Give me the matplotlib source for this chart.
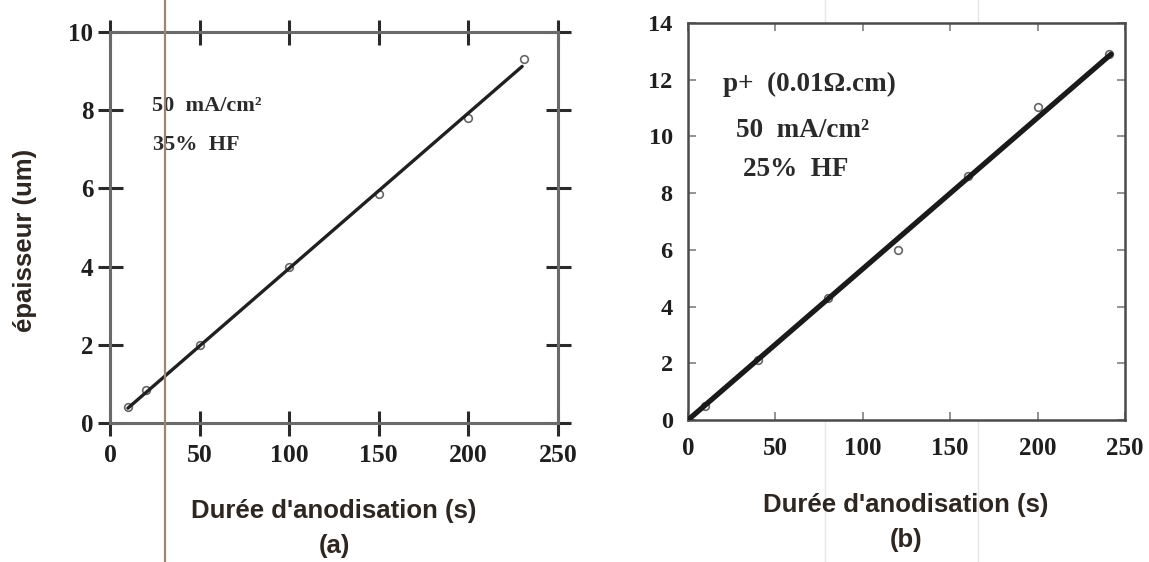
import matplotlib
matplotlib.use("Agg")
import matplotlib.pyplot as plt
from matplotlib.lines import Line2D

# panel (a): 50 mA/cm2, 35% HF
time_a = [10, 20, 50, 100, 150, 200, 231]
thick_a = [0.4, 0.85, 2.0, 4.0, 5.85, 7.8, 9.3]
fit_a_x = [10, 230]
fit_a_y = [0.38, 9.12]

# panel (b): p+ (0.01 ohm.cm), 50 mA/cm2, 25% HF
time_b = [0, 10, 40, 80, 120, 160, 200, 241]
thick_b = [0.0, 0.5, 2.1, 4.3, 6.0, 8.6, 11.05, 12.9]
fit_b_x = [0, 242]
fit_b_y = [0.0, 12.9]

xticks = [0, 50, 100, 150, 200, 250]
yticks_a = [0, 2, 4, 6, 8, 10]
yticks_b = [0, 2, 4, 6, 8, 10, 12, 14]

SERIF = "Liberation Serif"
SANS = "Liberation Sans"
INK = "#1e1e1e"
LABEL_INK = "#2e2620"

W, H = 1149, 562
fig = plt.figure(figsize=(W / 100, H / 100), dpi=100)
fig.patch.set_facecolor("white")


def px(x0, y0, x1, y1):
    # pixel box (top-left origin) -> figure fraction rect
    return [x0 / W, 1 - y1 / H, (x1 - x0) / W, (y1 - y0) / H]


# ---------- panel (a) ----------
ax1 = fig.add_axes(px(110, 32, 558, 423))
ax1.plot(time_a, thick_a, "o", ms=5.5, mfc="white", mec="#666666", mew=1.2, zorder=2)
ax1.plot(fit_a_x, fit_a_y, color="#202020", lw=2.4, zorder=3, solid_capstyle="round")
ax1.set_xlim(0, 250)
ax1.set_ylim(0, 10)
ax1.set_xticks(xticks)
ax1.set_yticks(yticks_a)
for s in ax1.spines.values():
    s.set_color("#6a6a6a")
    s.set_linewidth(2.2)
ax1.tick_params(axis="both", direction="inout", length=18, width=2.2, color="#2a2a2a",
                top=True, right=True, labelcolor=INK)
ax1.tick_params(axis="x", pad=6, labelsize=18.5)
ax1.tick_params(axis="y", pad=3, labelsize=18)
for lab in ax1.get_xticklabels() + ax1.get_yticklabels():
    lab.set_fontfamily(SERIF)
    lab.set_fontweight("bold")
ax1.text(23.5, 8.12, "50  mA/cm²", fontsize=16, family=SERIF, weight="bold",
         color="#2a2a2a", va="center")
ax1.text(24, 7.12, "35%  HF", fontsize=16, family=SERIF, weight="bold",
         color="#2a2a2a", va="center")

# ---------- panel (b) ----------
ax2 = fig.add_axes(px(688, 23, 1125, 420))
ax2.plot(time_b, thick_b, "o", ms=5.5, mfc="white", mec="#666666", mew=1.2, zorder=2)
ax2.plot(fit_b_x, fit_b_y, color="#1a1a1a", lw=3.8, zorder=3, solid_capstyle="round")
ax2.set_xlim(0, 250)
ax2.set_ylim(0, 14)
ax2.set_xticks(xticks)
ax2.set_yticks(yticks_b)
for s in ax2.spines.values():
    s.set_color("#4a4a4a")
    s.set_linewidth(1.8)
ax2.tick_params(axis="both", direction="in", length=6, width=1.2, color="#808080",
                top=True, right=True, labelcolor=INK)
ax2.tick_params(axis="x", pad=12, labelsize=18)
ax2.tick_params(axis="y", pad=11, labelsize=17.5)
for lab in ax2.get_xticklabels() + ax2.get_yticklabels():
    lab.set_fontfamily(SERIF)
    lab.set_fontweight("bold")
ax2.text(20, 11.85, "p+  (0.01Ω.cm)", fontsize=19.5, family=SERIF, weight="bold",
         color="#2a2a2a", va="center")
ax2.text(27.5, 10.2, "50  mA/cm²", fontsize=19.5, family=SERIF, weight="bold",
         color="#2a2a2a", va="center")
ax2.text(31.5, 8.85, "25%  HF", fontsize=19.5, family=SERIF, weight="bold",
         color="#2a2a2a", va="center")

# ---------- shared labels ----------
lab_kw = dict(fontsize=18.5, family=SANS, weight="bold", color=LABEL_INK,
              ha="center", va="center")
fig.text(25 / W, 1 - 240 / H, "épaisseur (um)", rotation=90, **lab_kw)
fig.text(334 / W, 1 - 511 / H, "Durée d'anodisation (s)", **lab_kw)
fig.text(334 / W, 1 - 546 / H, "(a)", **lab_kw)
fig.text(906 / W, 1 - 505 / H, "Durée d'anodisation (s)", **lab_kw)
fig.text(906 / W, 1 - 540 / H, "(b)", **lab_kw)

# scan artefacts: brown rule through panel (a), faint lines in panel (b)
fig.add_artist(Line2D([165 / W, 165 / W], [0, 1], color="#a08478", lw=1.6, zorder=10))
for xa in (825, 978):
    fig.add_artist(Line2D([xa / W, xa / W], [0, 1], color="#e6e6e6", lw=1.0, zorder=0))

fig.savefig("out.png", dpi=100, facecolor="white")
